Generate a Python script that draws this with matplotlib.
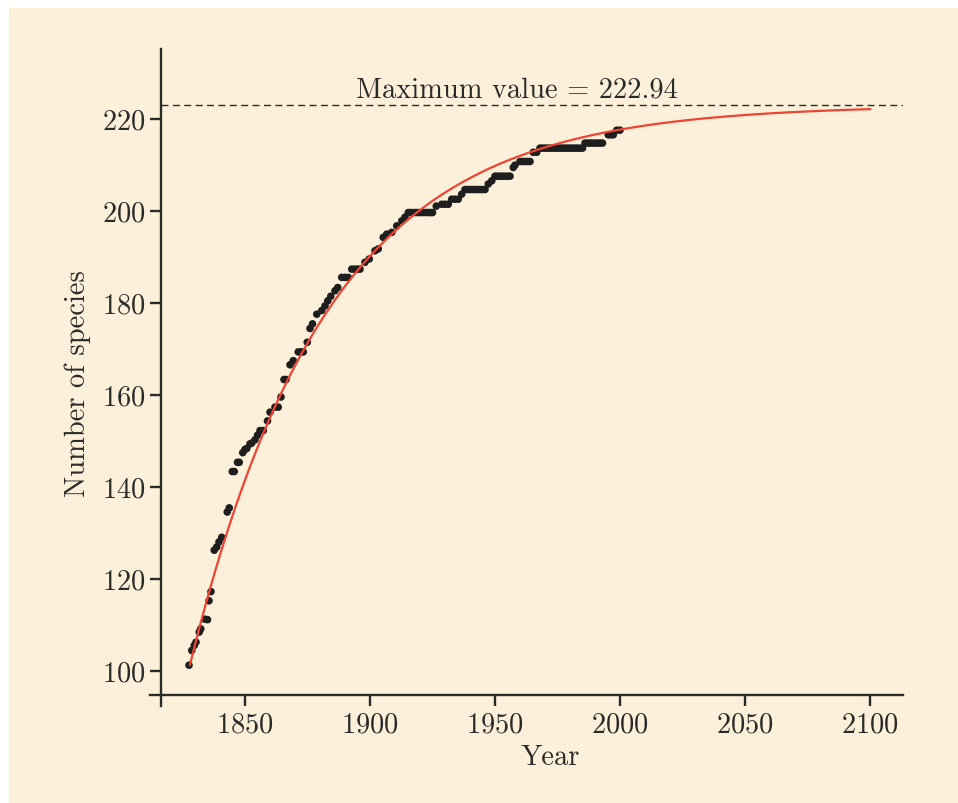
import numpy as np
import matplotlib
matplotlib.use("Agg")
import matplotlib.pyplot as plt
from matplotlib.patches import Rectangle

# ---------------- data ----------------
years = [1827.6, 1828.7, 1829.7, 1830.4, 1831.7, 1832.3, 1834.0, 1835.0, 1835.6, 1836.4,
         1837.7, 1838.7, 1839.6, 1840.7, 1842.9, 1843.7, 1844.9, 1845.7, 1847.0, 1847.7,
         1849.1, 1850.0, 1850.7, 1852.0, 1852.7, 1854.0, 1855.0, 1856.0, 1857.3, 1859.0,
         1860.0, 1862.0, 1863.3, 1864.4, 1865.6, 1866.4, 1868.0, 1869.3, 1871.3, 1872.3,
         1873.3, 1874.9, 1876.0, 1877.0, 1878.7, 1880.7, 1882.0, 1883.1, 1884.3, 1886.0,
         1887.1, 1888.7, 1890.0, 1891.3, 1892.7, 1893.8, 1895.0, 1896.0, 1898.0, 1899.7,
         1902.0, 1903.3, 1905.3, 1906.7, 1908.7, 1910.7, 1912.7, 1914.0, 1915.3, 1916.3,
         1917.3, 1918.3, 1919.3, 1920.3, 1921.3, 1922.3, 1923.3, 1924.3, 1925.0, 1926.5,
         1928.7, 1930.0, 1931.3, 1932.7, 1934.0, 1935.3, 1936.7, 1938.0, 1939.0, 1940.0,
         1941.0, 1942.0, 1943.0, 1944.0, 1945.0, 1946.0, 1947.3, 1948.7, 1950.0, 1951.0,
         1952.0, 1953.0, 1954.0, 1955.0, 1956.0, 1957.3, 1958.0, 1960.0, 1961.0, 1962.0,
         1963.0, 1964.0, 1965.3, 1966.7, 1968.0, 1969.0, 1970.0, 1971.0, 1972.0, 1973.0,
         1974.0, 1975.0, 1976.0, 1977.0, 1978.0, 1979.0, 1980.0, 1981.0, 1982.0, 1983.0,
         1984.0, 1985.0, 1986.0, 1987.0, 1988.0, 1989.0, 1990.0, 1991.0, 1992.0, 1993.0,
         1995.3, 1996.3, 1997.3, 1998.7, 2000.0]
species = [101.2, 104.4, 105.5, 106.2, 108.4, 109.1, 111.2, 111.1, 115.2, 117.2,
           126.2, 126.9, 128.0, 129.0, 134.5, 135.4, 143.3, 143.3, 145.3, 145.3,
           147.4, 148.1, 148.3, 149.3, 149.5, 150.2, 151.2, 152.2, 152.2, 154.3,
           156.2, 157.3, 157.3, 159.5, 163.3, 163.3, 166.5, 167.4, 169.3, 169.3,
           169.3, 171.4, 174.4, 175.4, 177.5, 178.3, 179.3, 180.4, 181.4, 182.6,
           183.3, 185.5, 185.5, 185.5, 187.3, 187.3, 187.3, 187.3, 188.8, 189.5,
           191.3, 191.7, 194.2, 194.9, 195.3, 196.7, 197.8, 198.6, 199.6, 199.6,
           199.6, 199.6, 199.6, 199.6, 199.6, 199.6, 199.6, 199.6, 199.6, 201.0,
           201.4, 201.4, 201.4, 202.5, 202.5, 202.5, 203.6, 204.6, 204.6, 204.6,
           204.6, 204.6, 204.6, 204.6, 204.6, 204.6, 205.8, 206.5, 207.5, 207.5,
           207.5, 207.5, 207.5, 207.5, 207.5, 209.4, 209.9, 210.7, 210.7, 210.7,
           210.7, 210.7, 212.7, 212.7, 213.6, 213.6, 213.6, 213.6, 213.6, 213.6,
           213.6, 213.6, 213.6, 213.6, 213.6, 213.6, 213.6, 213.6, 213.6, 213.6,
           213.6, 213.6, 214.7, 214.7, 214.7, 214.7, 214.7, 214.7, 214.7, 214.7,
           216.5, 216.5, 216.5, 217.5, 217.5]

# fitted saturation model parameters
max_value = 222.94
fit_start = 1828
fit_end = 2100
fit_y0 = 101.3
fit_rate = 0.0182

x_ticks = [1850, 1900, 1950, 2000, 2050, 2100]
y_ticks = [100, 120, 140, 160, 180, 200, 220]

# ---------------- style ----------------
CREAM = "#FCF0DA"
INK = "#2a2a2a"
RED = "#EE4433"

plt.rcParams["font.family"] = ["cmr10", "DejaVu Serif"]
plt.rcParams["mathtext.fontset"] = "cm"
plt.rcParams["axes.formatter.use_mathtext"] = True
plt.rcParams["axes.unicode_minus"] = False

fig = plt.figure(figsize=(9.58, 8.04), dpi=100)
fig.patch.set_facecolor("white")
fig.patches.append(Rectangle((9 / 958, 0), 1 - 9 / 958, 1 - 9 / 804,
                             transform=fig.transFigure, facecolor=CREAM,
                             edgecolor="none", zorder=-10))

W, H = 958, 804
ax = fig.add_axes([150 / W, 1 - 707 / H, (903 - 150) / W, (707 - 50) / H])
ax.patch.set_visible(False)

# data points
ax.scatter(years, species, s=30, color="#1e1e1e", edgecolors="none", zorder=3)

# fitted curve
fx = np.linspace(fit_start, fit_end, 400)
fy = max_value - (max_value - fit_y0) * np.exp(-fit_rate * (fx - fit_start))
ax.plot(fx, fy, color=RED, lw=1.6, zorder=4)

# maximum line
ax.axhline(max_value, xmin=11 / 753, xmax=1, color=INK, lw=1.0,
           dashes=(5, 3.2), zorder=2)
ax.text(1958.6, max_value + 0.6, "Maximum value = 222.94", ha="center",
        va="bottom", fontsize=20.5, color=INK)

ax.set_xlim(1812, 2113.2)
ax.set_ylim(92.33, 235.15)
ax.set_xticks(x_ticks)
ax.set_yticks(y_ticks)

for s in ["top", "right"]:
    ax.spines[s].set_visible(False)
for s in ["left", "bottom"]:
    ax.spines[s].set_position(("outward", -8))
    ax.spines[s].set_linewidth(1.7)
    ax.spines[s].set_color(INK)

ax.tick_params(axis="both", length=8, width=1.7, color=INK,
               labelsize=20.5, labelcolor=INK)
ax.tick_params(axis="y", pad=3)
ax.tick_params(axis="x", pad=4)

ax.set_xlabel("Year", fontsize=20.5, color=INK)
ax.xaxis.set_label_coords(0.531, -0.057)
ax.set_ylabel("Number of species", fontsize=20.5, color=INK, labelpad=8)
ax.yaxis.label.set_y(0.493)

fig.savefig("out.png", dpi=100, facecolor=fig.get_facecolor())
